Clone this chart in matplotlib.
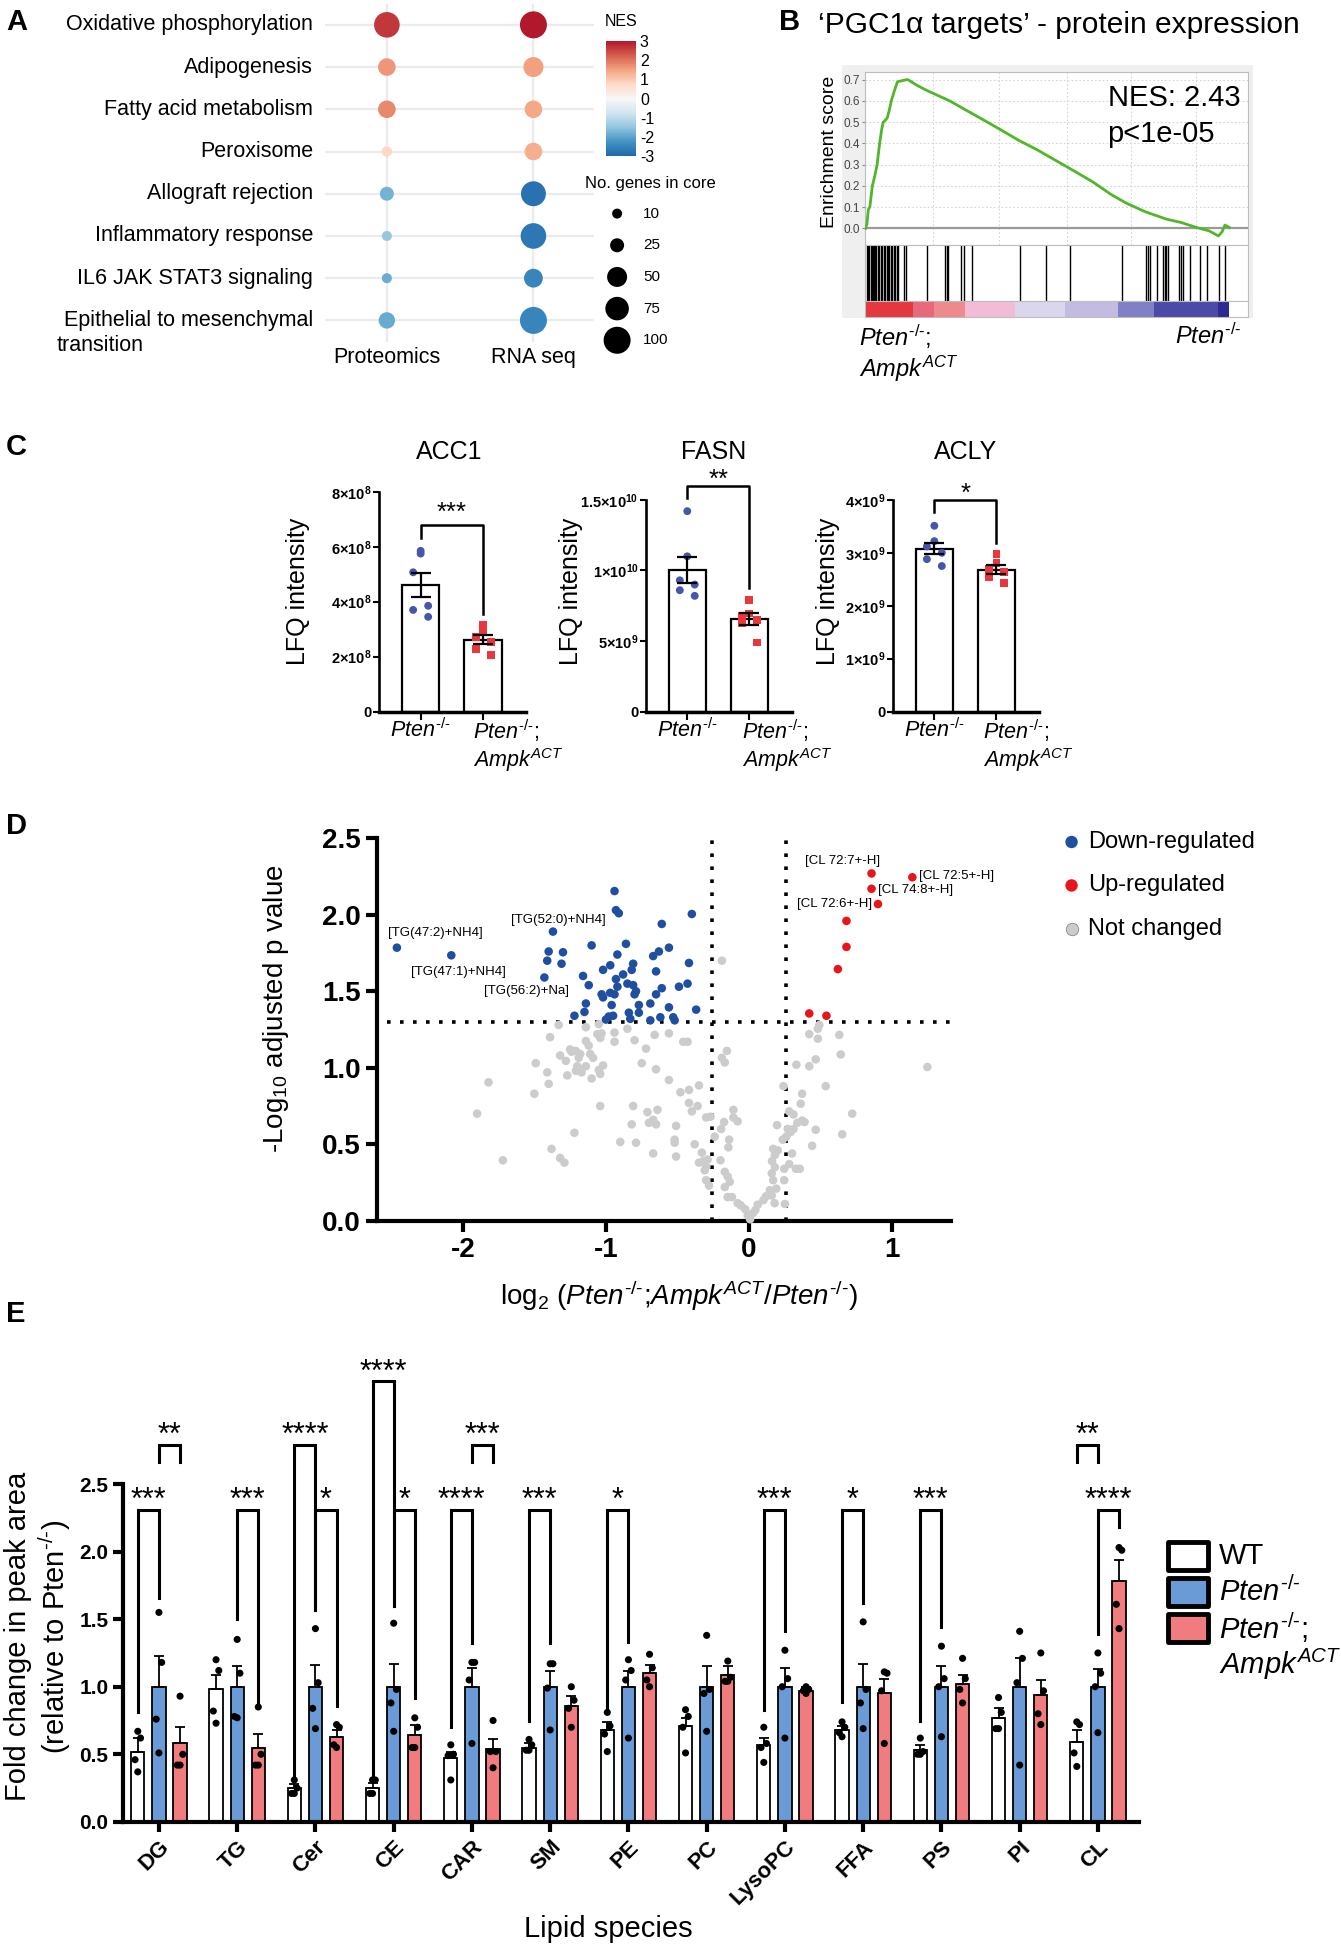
import numpy as np
import matplotlib
matplotlib.use('Agg')
import matplotlib.pyplot as plt
from matplotlib.patches import Rectangle
from matplotlib.colors import ListedColormap

# ====================== DATA ======================
# Panel A
pathways = ['Oxidative phosphorylation', 'Adipogenesis', 'Fatty acid metabolism',
            'Peroxisome', 'Allograft rejection', 'Inflammatory response',
            'IL6 JAK STAT3 signaling', 'Epithelial to mesenchymal']
datasets = ['Proteomics', 'RNA seq']
nes_proteomics = [2.63, 1.65, 1.8, 0.75, -1.76, -1.43, -1.84, -1.88]
nes_rnaseq = [3.0, 1.54, 1.43, 1.35, -2.8, -2.7, -2.48, -2.48]
core_proteomics = [90, 40, 40, 12, 25, 10, 10, 35]
core_rnaseq = [100, 50, 40, 40, 85, 90, 45, 100]
core_legend = [10, 25, 50, 75, 100]
nes_ticks = [3, 2, 1, 0, -1, -2, -3]

# Panel B (running enrichment score, fraction of ranked list)
es_rank = [0.0, 0.004, 0.008, 0.012, 0.019, 0.026, 0.032, 0.039, 0.045, 0.049, 0.055,
           0.060, 0.066, 0.071, 0.080, 0.088, 0.100, 0.113, 0.117, 0.140, 0.168, 0.200,
           0.232, 0.273, 0.320, 0.371, 0.421, 0.472, 0.523, 0.574, 0.624, 0.675, 0.716,
           0.767, 0.827, 0.868, 0.909, 0.944, 0.970, 0.980, 0.988, 1.0]
es_score = [0.0, 0.02, 0.09, 0.10, 0.20, 0.25, 0.30, 0.40, 0.47, 0.50, 0.51,
            0.52, 0.56, 0.60, 0.65, 0.69, 0.695, 0.70, 0.70, 0.675, 0.65, 0.625,
            0.60, 0.56, 0.515, 0.465, 0.415, 0.37, 0.32, 0.27, 0.22, 0.16, 0.12,
            0.08, 0.044, 0.028, 0.005, -0.011, -0.035, -0.016, 0.016, 0.005]
es_ticks = [0.0, 0.1, 0.2, 0.3, 0.4, 0.5, 0.6, 0.7]
gene_hits = [0.005, 0.008, 0.011, 0.014, 0.017, 0.020, 0.023, 0.026, 0.029, 0.034, 0.038,
             0.042, 0.046, 0.050, 0.054, 0.058, 0.062, 0.066, 0.070, 0.074, 0.078, 0.082,
             0.086, 0.090, 0.107, 0.112, 0.170, 0.218, 0.223, 0.228, 0.262, 0.272, 0.292,
             0.426, 0.497, 0.561, 0.706, 0.772, 0.777, 0.782, 0.802, 0.817, 0.822, 0.827,
             0.832, 0.863, 0.868, 0.873, 0.893, 0.919, 0.939, 0.973, 0.988]
rank_bins = [0.0, 0.132, 0.188, 0.274, 0.411, 0.548, 0.695, 0.792, 0.970, 1.0]
rank_colors = ['#E2383E', '#E8697A', '#EE8A8C', '#F3BCD6', '#DAD6EE', '#C3BCE0',
               '#7F80C6', '#4A4AA8', '#2B2B92']

# Panel C
c_proteins = ['ACC1', 'FASN', 'ACLY']
acc1_pten = [5.85e8, 5.75e8, 5.07e8, 3.85e8, 3.70e8, 3.45e8]
acc1_ampk = [3.15e8, 2.93e8, 2.72e8, 2.54e8, 2.29e8, 2.05e8]
fasn_pten = [1.42e10, 1.10e10, 9.3e9, 9.0e9, 8.6e9, 8.2e9]
fasn_ampk = [7.9e9, 6.95e9, 6.8e9, 6.5e9, 6.3e9, 4.9e9]
acly_pten = [3.51e9, 3.22e9, 3.12e9, 3.00e9, 2.88e9, 2.75e9]
acly_ampk = [2.98e9, 2.80e9, 2.70e9, 2.64e9, 2.55e9, 2.43e9]
c_yticks = [[0, 2e8, 4e8, 6e8, 8e8], [0, 5e9, 1e10, 1.5e10], [0, 1e9, 2e9, 3e9, 4e9]]
c_yticklabels = [['0', r'$\mathbf{2{\times}10^{8}}$', r'$\mathbf{4{\times}10^{8}}$',
                  r'$\mathbf{6{\times}10^{8}}$', r'$\mathbf{8{\times}10^{8}}$'],
                 ['0', r'$\mathbf{5{\times}10^{9}}$', r'$\mathbf{1{\times}10^{10}}$',
                  r'$\mathbf{1.5{\times}10^{10}}$'],
                 ['0', r'$\mathbf{1{\times}10^{9}}$', r'$\mathbf{2{\times}10^{9}}$',
                  r'$\mathbf{3{\times}10^{9}}$', r'$\mathbf{4{\times}10^{9}}$']]
c_stars = ['***', '**', '*']
c_bracket_top = [6.78e8, 1.60e10, 3.99e9]
c_bracket_left = [6.33e8, 1.51e10, 3.77e9]
c_bracket_right = [3.57e8, 8.75e9, 3.19e9]
c_star_y = [7.52e8, 1.698e10, 4.27e9]

# Panel D (volcano)
down_pts = [(-2.46, 1.785), (-2.08, 1.735), (-1.37, 1.89), (-1.43, 1.59), (-1.40, 1.76),
            (-1.41, 1.70), (-1.30, 1.755), (-1.31, 1.68), (-1.22, 1.34), (-1.16, 1.60),
            (-1.12, 1.54), (-1.14, 1.42), (-1.15, 1.365), (-1.10, 1.80), (-1.03, 1.48),
            (-1.02, 1.46), (-1.02, 1.64), (-1.00, 1.315), (-0.98, 1.335), (-0.97, 1.67),
            (-0.97, 1.49), (-0.96, 1.41), (-0.95, 1.34), (-0.94, 2.155), (-0.93, 2.03),
            (-0.91, 2.01), (-0.93, 1.58), (-0.92, 1.74), (-0.92, 1.53), (-0.94, 1.48),
            (-0.88, 1.61), (-0.86, 1.81), (-0.85, 1.55), (-0.82, 1.64), (-0.81, 1.68),
            (-0.81, 1.54), (-0.80, 1.48), (-0.79, 1.50), (-0.84, 1.36), (-0.83, 1.32),
            (-0.77, 1.41), (-0.77, 1.36), (-0.69, 1.42), (-0.69, 1.31), (-0.67, 1.73),
            (-0.65, 1.63), (-0.65, 1.48), (-0.63, 1.76), (-0.61, 1.94), (-0.61, 1.52),
            (-0.62, 1.33), (-0.56, 1.785), (-0.56, 1.395), (-0.53, 1.33), (-0.49, 1.53),
            (-0.43, 1.55), (-0.42, 1.685), (-0.40, 2.005), (-0.37, 1.38), (-0.52, 1.31)]
up_pts = [(0.855, 2.27), (1.14, 2.245), (0.855, 2.17), (0.90, 2.07), (0.68, 1.96),
          (0.68, 1.79), (0.62, 1.645), (0.42, 1.355), (0.54, 1.34)]
ns_pts = [(-0.19, 1.70), (-1.33, 1.28), (-1.39, 1.20), (-1.14, 1.265), (-1.05, 1.285),
          (-1.06, 1.22), (-1.03, 1.225), (-0.94, 1.23), (-0.85, 1.255), (-1.14, 1.175),
          (-1.12, 1.145), (-1.04, 1.195), (-0.94, 1.17), (-0.80, 1.18), (-0.66, 1.215),
          (-0.56, 1.225), (-0.46, 1.17), (-0.43, 1.17), (-1.25, 1.12), (-1.24, 1.105),
          (-1.21, 1.11), (-1.18, 1.09), (-1.19, 1.065), (-1.11, 1.09), (-1.09, 1.065),
          (-1.32, 1.08), (-1.28, 1.045), (-0.72, 1.125), (-1.02, 1.015), (-1.20, 1.01),
          (-1.18, 0.99), (-1.14, 1.01), (-1.21, 0.98), (-1.17, 0.97), (-1.05, 0.985),
          (-1.04, 0.96), (-1.10, 0.93), (-1.27, 0.95), (-1.41, 0.97), (-1.49, 1.03),
          (-0.75, 1.03), (-0.65, 0.99), (-1.40, 0.895), (-1.82, 0.905), (-1.50, 0.83),
          (-1.90, 0.70), (-1.72, 0.395), (-1.38, 0.47), (-1.32, 0.41), (-1.29, 0.38),
          (-1.22, 0.575), (-1.04, 0.75), (-0.90, 0.515), (-0.81, 0.75), (-0.79, 0.51),
          (-0.71, 0.71), (-0.64, 0.725), (-0.67, 0.66), (-0.70, 0.64), (-0.82, 0.63),
          (-0.65, 0.63), (-0.67, 0.44), (-0.56, 0.92), (-0.51, 0.62), (-0.52, 0.53),
          (-0.52, 0.51), (-0.51, 0.42), (-0.48, 0.84), (-0.42, 0.855), (-0.35, 0.885),
          (-0.42, 0.77), (-0.40, 0.715), (-0.36, 0.75), (-0.38, 0.50), (-0.33, 0.445),
          (-0.35, 0.38), (-0.32, 0.39), (-0.30, 0.355), (-0.29, 0.40), (-0.31, 0.33),
          (-0.30, 0.265), (-0.28, 0.23), (-0.30, 0.675), (-0.27, 0.68), (-0.24, 0.55),
          (-0.20, 0.395), (-0.195, 0.60), (-0.175, 0.645), (-0.155, 1.11), (-0.19, 1.065),
          (-0.17, 1.035), (-0.17, 0.32), (-0.15, 0.29), (-0.135, 0.255), (-0.17, 0.22),
          (-0.15, 0.155), (-0.12, 0.155), (-0.11, 0.675), (-0.08, 0.65), (-0.11, 0.725),
          (-0.14, 0.53), (-0.145, 0.48), (-0.08, 0.115), (-0.057, 0.10), (-0.027, 0.075),
          (-0.01, 0.035), (0.007, 0.01), (0.027, 0.05), (0.044, 0.07), (0.06, 0.105),
          (0.10, 0.135), (0.118, 0.16), (0.145, 0.20), (0.158, 0.165), (0.178, 0.115),
          (0.19, 0.21), (0.168, 0.265), (0.158, 0.31), (0.18, 0.35), (0.16, 0.39),
          (0.18, 0.43), (0.20, 0.46), (0.168, 0.47), (0.235, 0.53), (0.26, 0.55),
          (0.29, 0.58), (0.27, 0.60), (0.31, 0.60), (0.195, 0.625), (0.24, 0.88),
          (0.28, 0.715), (0.31, 0.695), (0.337, 0.64), (0.37, 0.655), (0.387, 0.645),
          (0.33, 1.02), (0.42, 1.01), (0.465, 1.055), (0.37, 0.83), (0.36, 0.765),
          (0.327, 0.34), (0.354, 0.34), (0.245, 0.34), (0.245, 0.265), (0.44, 0.49),
          (0.465, 0.595), (0.42, 1.22), (0.48, 1.19), (0.49, 1.28), (0.48, 1.255),
          (0.535, 0.88), (0.63, 1.215), (0.64, 1.087), (0.65, 0.565), (0.72, 0.70),
          (1.245, 1.005), (0.25, 0.11), (0.28, 0.37), (0.30, 0.44)]
volc_labels = ['[CL 72:7+-H]', '[CL 72:5+-H]', '[CL 74:8+-H]', '[CL 72:6+-H]',
               '[TG(47:2)+NH4]', '[TG(47:1)+NH4]', '[TG(52:0)+NH4]', '[TG(56:2)+Na]']
volc_label_x = [0.39, 1.185, 0.90, 0.337, -2.525, -2.36, -1.663, -1.85]
volc_label_y = [2.35, 2.255, 2.16, 2.07, 1.88, 1.626, 1.965, 1.50]
fc_cut = 0.26
p_cut = 1.3

# Panel E
lipids = ['DG', 'TG', 'Cer', 'CE', 'CAR', 'SM', 'PE', 'PC', 'LysoPC', 'FFA', 'PS', 'PI', 'CL']
wt_mean = [0.52, 0.98, 0.25, 0.25, 0.47, 0.55, 0.68, 0.71, 0.57, 0.68, 0.53, 0.77, 0.59]
wt_sem = [0.10, 0.11, 0.03, 0.04, 0.05, 0.03, 0.06, 0.06, 0.05, 0.03, 0.04, 0.07, 0.09]
pten_mean = [1.0, 1.0, 1.0, 1.0, 1.0, 1.0, 1.0, 1.0, 1.0, 1.0, 1.0, 1.0, 1.0]
pten_sem = [0.23, 0.15, 0.16, 0.17, 0.14, 0.12, 0.12, 0.15, 0.14, 0.17, 0.15, 0.21, 0.13]
ampk_mean = [0.58, 0.55, 0.63, 0.64, 0.54, 0.86, 1.10, 1.09, 0.97, 0.95, 1.02, 0.94, 1.78]
ampk_sem = [0.12, 0.10, 0.05, 0.08, 0.07, 0.07, 0.06, 0.06, 0.03, 0.11, 0.07, 0.11, 0.16]
wt_pts = [[0.67, 0.62, 0.46, 0.37], [1.20, 1.12, 0.82, 0.73], [0.31, 0.25, 0.21, 0.21],
          [0.31, 0.31, 0.21, 0.21], [0.57, 0.50, 0.49, 0.31], [0.61, 0.57, 0.53, 0.53],
          [0.81, 0.71, 0.65, 0.52], [0.83, 0.78, 0.70, 0.51], [0.70, 0.58, 0.55, 0.44],
          [0.74, 0.70, 0.66, 0.63], [0.62, 0.52, 0.50, 0.50], [0.92, 0.81, 0.69, 0.69],
          [0.74, 0.72, 0.51, 0.41]]
pten_pts = [[1.55, 1.18, 0.76, 0.51], [1.35, 1.10, 0.78, 0.77], [1.43, 1.03, 0.84, 0.69],
            [1.47, 0.98, 0.88, 0.67], [1.18, 1.18, 1.05, 0.58], [1.17, 1.17, 0.99, 0.68],
            [1.20, 1.12, 1.05, 0.62], [1.38, 0.98, 0.95, 0.67], [1.27, 1.06, 1.00, 0.62],
            [1.48, 0.98, 0.88, 0.69], [1.30, 1.06, 1.00, 0.63], [1.41, 1.21, 1.03, 0.42],
            [1.25, 1.10, 1.00, 0.66]]
ampk_pts = [[0.93, 0.50, 0.42, 0.42], [0.85, 0.50, 0.42, 0.42], [0.72, 0.70, 0.57, 0.55],
            [0.77, 0.70, 0.55, 0.55], [0.75, 0.52, 0.52, 0.40], [1.00, 0.90, 0.84, 0.70],
            [1.24, 1.14, 1.05, 1.00], [1.19, 1.07, 1.04, 1.04], [1.00, 0.98, 0.97, 0.95],
            [1.11, 1.10, 0.97, 0.58], [1.21, 1.06, 0.98, 0.88], [1.25, 0.97, 0.80, 0.72],
            [2.03, 2.01, 1.61, 1.43]]
# significance: lipid index, first bar of pair, top, left leg end, right leg end, label
e_sig_lipid = [0, 0, 1, 2, 2, 3, 3, 4, 4, 5, 6, 8, 9, 10, 12, 12]
e_sig_a = [0, 1, 1, 0, 1, 0, 1, 0, 1, 0, 0, 0, 0, 0, 0, 1]
e_sig_top = [2.31, 2.79, 2.31, 2.79, 2.31, 3.26, 2.31, 2.31, 2.79, 2.31, 2.31, 2.31, 2.31, 2.31, 2.79, 2.31]
e_sig_left = [0.81, 2.66, 1.50, 0.35, 1.57, 0.35, 1.60, 0.70, 2.66, 0.75, 0.81, 0.83, 0.89, 0.75, 2.66, 1.39]
e_sig_right = [1.66, 2.66, 0.86, 1.57, 0.86, 1.60, 0.92, 1.32, 2.66, 1.32, 1.33, 1.41, 1.62, 1.44, 2.66, 2.18]
e_sig_label = ['***', '**', '***', '****', '*', '****', '*', '****', '***', '***', '*', '***',
               '*', '***', '**', '****']

# ====================== STYLE / LAYOUT ======================
plt.rcParams['font.family'] = ['Liberation Sans', 'DejaVu Sans']
plt.rcParams['mathtext.fontset'] = 'custom'
plt.rcParams['mathtext.rm'] = 'Liberation Sans'
plt.rcParams['mathtext.it'] = 'Liberation Sans:italic'
plt.rcParams['mathtext.bf'] = 'Liberation Sans:bold'
plt.rcParams['mathtext.sf'] = 'Liberation Sans'
plt.rcParams['axes.unicode_minus'] = False

W, H = 1080.0, 1571.0
S = 1341.0 / 1080.0
PTEN = r'$\mathit{Pten}^{\text{-/-}}$'
AMPK = r'$\mathit{Ampk}^{\mathit{ACT}}$'

fig = plt.figure(figsize=(13.41, 19.51), dpi=100)


def box(x0, y0, x1, y1):
    return [x0 / W, 1 - y1 / H, (x1 - x0) / W, (y1 - y0) / H]


def stars(ax, x, yc, s, fs):
    # place asterisks so that their visual centre sits at yc
    ax.annotate(s, xy=(x, yc), xycoords='data', xytext=(0, -0.58 * fs * 100 / 72),
                textcoords='offset pixels', ha='center', va='baseline', fontsize=fs,
                annotation_clip=False)


ov = fig.add_axes([0, 0, 1, 1], zorder=20)
ov.set_xlim(0, W)
ov.set_ylim(H, 0)
ov.axis('off')

for lab, (x, y) in {'A': (5, 18), 'B': (627, 18), 'C': (5, 360), 'D': (5, 665),
                    'E': (5, 1058)}.items():
    ov.text(x, y, lab, fontsize=21, fontweight='bold', ha='left', va='center')

# ---------------- Panel A ----------------
def core_to_s(v):
    d = np.interp(v, [10, 25, 50, 75, 100], [10, 14, 20, 23.5, 27])
    return (d * 0.72) ** 2


nes_cmap = ListedColormap(plt.get_cmap('RdBu_r')(np.linspace(0.1, 0.9, 256)))
axA = fig.add_axes(box(262, 3, 478, 275))
n = len(pathways)
rows = np.arange(n)
for r in rows:
    axA.axhline(r, color='#EBEBEB', lw=1.6, zorder=1)
for j in range(2):
    axA.axvline(j, color='#EBEBEB', lw=1.6, zorder=1)
sc = None
for j, (nes, core) in enumerate([(nes_proteomics, core_proteomics), (nes_rnaseq, core_rnaseq)]):
    sc = axA.scatter(np.full(n, j), rows, c=nes, s=core_to_s(np.array(core)), cmap=nes_cmap,
                     vmin=-3, vmax=3, zorder=3, edgecolors='none')
axA.set_xlim(-0.42, 1.41)
axA.set_ylim(n - 0.5, -0.5)
axA.axis('off')
for r, name in zip(rows, pathways):
    axA.text(-0.046, r, name, transform=axA.get_yaxis_transform(), ha='right', va='center',
             fontsize=15.5)
axA.text(-1.0, n - 1 + 0.6, 'transition', transform=axA.get_yaxis_transform(), ha='left',
         va='center', fontsize=15.5)
for j, name in enumerate(datasets):
    axA.annotate(name, xy=(j, 0), xycoords=('data', 'axes fraction'), xytext=(0, -13 * S),
                 textcoords='offset pixels', ha='center', va='center', fontsize=15.5)

cax = fig.add_axes(box(488, 33, 512, 126))
cb = fig.colorbar(sc, cax=cax, ticks=nes_ticks)
cb.outline.set_visible(False)
cb.ax.tick_params(labelsize=11.5, length=0, pad=3)
cb.ax.set_yticklabels([str(t) for t in nes_ticks])
ov.text(487, 17, 'NES', fontsize=11.5, ha='left', va='center')
ov.text(471, 148, 'No. genes in core', fontsize=12, ha='left', va='center')
for k, v in enumerate(core_legend):
    yy = 172 + 25.5 * k
    ov.scatter([497], [yy], s=core_to_s(v), color='black', edgecolors='none', clip_on=False)
    ov.text(518, yy, str(v), fontsize=11, ha='left', va='center')

# ---------------- Panel B ----------------
fig.add_artist(Rectangle((678 / W, 1 - 256 / H), (1009 - 678) / W, (256 - 52) / H,
                         transform=fig.transFigure, facecolor='#EFEFEF', edgecolor='none',
                         zorder=-5))
ov.text(659, 20, '‘PGC1α targets’ - protein expression', fontsize=21.5, ha='left',
        va='center')
axB = fig.add_axes(box(697, 58, 1005, 197.5))
axB.set_facecolor('white')
axB.plot(es_rank, es_score, color='#52B52A', lw=2.0, zorder=3)
axB.axhline(0, color='#9A9A9A', lw=1.6, zorder=2)
axB.set_xlim(0, 1.051)
axB.set_ylim(-0.079, 0.736)
axB.set_yticks(es_ticks)
axB.set_yticklabels([f'{v:.1f}' for v in es_ticks], fontsize=8.5, color='#444444')
axB.set_xticks([0.185, 0.367, 0.553, 0.731, 0.909])
axB.set_xticklabels([])
axB.tick_params(axis='x', length=0)
axB.tick_params(axis='y', length=2, pad=2, color='#888888')
axB.grid(True, color='#D5D5D5', ls=(0, (1.5, 2)), lw=0.8)
for sp in axB.spines.values():
    sp.set_color('#BDBDBD')
    sp.set_linewidth(0.8)
ov.text(668, 122, 'Enrichment score', rotation=90, fontsize=14, ha='center', va='center')
ov.text(892, 79, 'NES: 2.43', fontsize=21, ha='left', va='center')
ov.text(892, 108, 'p<1e-05', fontsize=21, ha='left', va='center')

axHit = fig.add_axes(box(697, 197.5, 1005, 242.5))
axHit.set_facecolor('white')
axHit.vlines(gene_hits, 0, 1, color='black', lw=1.0)
axHit.set_xlim(0, 1.051)
axHit.set_ylim(0, 1)
axHit.set_xticks([])
axHit.set_yticks([])
axCol = fig.add_axes(box(697, 242.5, 1005, 255.5))
axCol.set_facecolor('white')
for e0, e1, c in zip(rank_bins[:-1], rank_bins[1:], rank_colors):
    axCol.axvspan(e0, e1, color=c, lw=0)
axCol.set_xlim(0, 1.051)
axCol.set_xticks([])
axCol.set_yticks([])
for a in (axHit, axCol):
    for sp in a.spines.values():
        sp.set_color('#BDBDBD')
        sp.set_linewidth(0.8)
ov.text(692, 271, PTEN + ';', fontsize=17, ha='left', va='center')
ov.text(692, 297, AMPK, fontsize=17, ha='left', va='center')
ov.text(946, 271, PTEN, fontsize=17, ha='left', va='center')

# ---------------- Panel C ----------------
c_boxes = [(305, 396, 424, 573), (520, 402.5, 638, 573), (719, 402.5, 837, 573)]
c_ylab_x = [240, 460, 667]
c_title_x = [362, 575, 778]
c_label_dx = [-8, -6, -11]
c_sets = [(acc1_pten, acc1_ampk), (fasn_pten, fasn_ampk), (acly_pten, acly_ampk)]
jit = [0.0, 0.0, -0.12, 0.12, -0.12, 0.12]
for i in range(3):
    ax = fig.add_axes(box(*c_boxes[i]))
    ax.set_facecolor('none')
    g1, g2 = c_sets[i]
    for k, (vals, col, mk) in enumerate([(g1, '#4656A8', 'o'), (g2, '#E8383D', 's')]):
        vals = np.array(vals)
        m = vals.mean()
        se = vals.std(ddof=1) / np.sqrt(len(vals))
        ax.bar(k, m, width=0.6, color='white', edgecolor='black', lw=1.6, zorder=1)
        ax.scatter(k + np.array(jit), vals, s=32, color=col, marker=mk, edgecolors='none',
                   zorder=3)
        ax.errorbar(k, m, yerr=se, color='black', capsize=7.2, lw=1.6, capthick=1.6, zorder=4)
    top = c_yticks[i][-1]
    ax.set_ylim(0, top)
    ax.set_xlim(-0.67, 1.69)
    ax.set_yticks(c_yticks[i])
    ax.set_yticklabels(c_yticklabels[i], fontsize=10.5, fontweight='bold')
    ax.set_xticks([0, 1])
    ax.set_xticklabels([])
    ax.tick_params(axis='y', length=4, width=1.5, pad=1)
    ax.tick_params(axis='x', length=6, width=1.5)
    for sp in ['top', 'right']:
        ax.spines[sp].set_visible(False)
    ax.spines['left'].set_linewidth(1.9)
    ax.spines['bottom'].set_linewidth(2.5)
    ax.plot([0, 0, 1, 1], [c_bracket_left[i], c_bracket_top[i], c_bracket_top[i],
                           c_bracket_right[i]], color='black', lw=1.8, clip_on=False)
    stars(ax, 0.5, c_star_y[i], c_stars[i], 18.5)
    ax.annotate(PTEN, xy=(0, 0), xycoords=('data', 'axes fraction'), xytext=(0, -15 * S),
                textcoords='offset pixels', ha='center', va='center', fontsize=15.5)
    ax.annotate(PTEN + ';', xy=(1, 0), xycoords=('data', 'axes fraction'),
                xytext=(c_label_dx[i] * S, -15 * S), textcoords='offset pixels', ha='left',
                va='center', fontsize=15.5)
    ax.annotate(AMPK, xy=(1, 0), xycoords=('data', 'axes fraction'),
                xytext=(c_label_dx[i] * S, -39 * S), textcoords='offset pixels', ha='left',
                va='center', fontsize=15.5)
    ov.text(c_title_x[i], 364, c_proteins[i], fontsize=18, ha='center', va='center')
    ov.text(c_ylab_x[i], 476, 'LFQ intensity', rotation=90, fontsize=18, ha='center',
            va='center')

# ---------------- Panel D ----------------
axD = fig.add_axes(box(303.5, 675, 765.9, 983))
axD.set_facecolor('none')
for pts, col in [(ns_pts, '#CCCCCC'), (down_pts, '#1F4FA0'), (up_pts, '#E8151B')]:
    xs, ys = zip(*pts)
    axD.scatter(xs, ys, s=38, color=col, edgecolors='none', zorder=3, clip_on=False)
dot = (0, (1, 2.6))
axD.axvline(-fc_cut, color='black', ls=dot, lw=2.6, zorder=2)
axD.axvline(fc_cut, color='black', ls=dot, lw=2.6, zorder=2)
axD.plot([-2.53, 1.41], [p_cut, p_cut], color='black', ls=dot, lw=2.6, zorder=2)
axD.set_xlim(-2.6, 1.41)
axD.set_ylim(0, 2.5)
axD.set_xticks([-2, -1, 0, 1])
axD.set_xticklabels(['-2', '-1', '0', '1'], fontsize=20, fontweight='bold')
axD.set_yticks([0, 0.5, 1.0, 1.5, 2.0, 2.5])
axD.set_yticklabels(['0.0', '0.5', '1.0', '1.5', '2.0', '2.5'], fontsize=20,
                    fontweight='bold')
axD.tick_params(width=3, length=8)
for sp in ['top', 'right']:
    axD.spines[sp].set_visible(False)
for sp in ['left', 'bottom']:
    axD.spines[sp].set_linewidth(3)
for s_, lx, ly in zip(volc_labels, volc_label_x, volc_label_y):
    axD.text(lx, ly, s_, fontsize=9.5, ha='left', va='center', clip_on=False)
ov.text(222, 812, r'-Log$_{10}$ adjusted p value', rotation=90, fontsize=20, ha='center',
        va='center')
ov.text(547, 1043, r'log$_2$ (' + PTEN + ';' + AMPK + '/' + PTEN + ')', fontsize=20,
        ha='center', va='center')
for k, (lab, col) in enumerate([('Down-regulated', '#1F4FA0'), ('Up-regulated', '#E8151B'),
                                ('Not changed', '#CCCCCC')]):
    yy = 678 + 35 * k
    ov.scatter([863], [yy], s=80, color=col, edgecolors='#888888' if k == 2 else 'none',
               linewidths=0.6)
    ov.text(876, yy, lab, fontsize=17, ha='left', va='center')

# ---------------- Panel E ----------------
axE = fig.add_axes(box(99, 1195, 917, 1467))
axE.set_facecolor('none')
xg = np.arange(len(lipids))
off = 0.27
bw = 0.17
groups = [(wt_mean, wt_sem, wt_pts, 'white'), (pten_mean, pten_sem, pten_pts, '#6A9BD6'),
          (ampk_mean, ampk_sem, ampk_pts, '#F07C80')]
pj = [0.0, 0.035, -0.035, 0.0]
for g, (mean, sem, pts, col) in enumerate(groups):
    xx = xg + (g - 1) * off
    axE.bar(xx, mean, width=bw, color=col, edgecolor='black', lw=1.3, zorder=1)
    axE.errorbar(xx, mean, yerr=[np.zeros(len(mean)), sem], fmt='none', ecolor='black',
                 elinewidth=1.3, capsize=3.5, capthick=1.3, zorder=2)
    for i in range(len(lipids)):
        axE.scatter(xx[i] + np.array(pj), pts[i], s=26, color='black', edgecolors='none',
                    zorder=3)
for li, a, top, yl, yr, lab in zip(e_sig_lipid, e_sig_a, e_sig_top, e_sig_left, e_sig_right,
                                   e_sig_label):
    x0 = li + (a - 1) * off
    x1 = x0 + off
    axE.plot([x0, x0, x1, x1], [yl, top, top, yr], color='black', lw=2.2, clip_on=False,
             solid_joinstyle='miter')
    stars(axE, (x0 + x1) / 2, top + 0.135, lab, 22)
axE.set_xlim(-0.46, 12.52)
axE.set_ylim(0, 2.5)
axE.set_xticks(xg)
axE.set_xticklabels(lipids, rotation=45, ha='right', va='top', rotation_mode='anchor',
                    fontsize=16, fontweight='bold')
axE.set_yticks([0, 0.5, 1.0, 1.5, 2.0, 2.5])
axE.set_yticklabels(['0.0', '0.5', '1.0', '1.5', '2.0', '2.5'], fontsize=15,
                    fontweight='bold')
axE.tick_params(width=3, length=7)
for sp in ['top', 'right']:
    axE.spines[sp].set_visible(False)
for sp in ['left', 'bottom']:
    axE.spines[sp].set_linewidth(3)
ov.text(31, 1318, 'Fold change in peak area\n(relative to ' + r'Pten$^{\text{-/-}}$' + ')',
        rotation=90, fontsize=21, ha='center', va='center', linespacing=1.15)
ov.text(490, 1553, 'Lipid species', fontsize=21, ha='center', va='center')
for k, (lab, col) in enumerate([('WT', 'white'), (PTEN, '#6A9BD6'), (PTEN + ';', '#F07C80')]):
    yy = 1253 + 29 * k
    ov.add_patch(Rectangle((941, yy - 11), 32, 22, facecolor=col, edgecolor='black', lw=3.5,
                           joinstyle='round'))
    ov.text(982, yy, lab, fontsize=21, ha='left', va='center')
ov.text(982, 1340, AMPK, fontsize=21, ha='left', va='center')

fig.savefig('out.png', dpi=100)
